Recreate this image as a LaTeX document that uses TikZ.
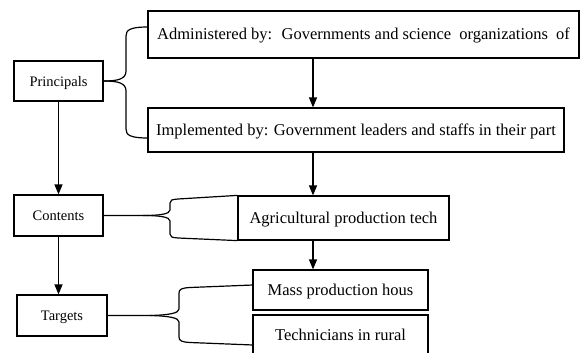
\documentclass[tikz,border=0pt]{standalone}
\usepackage{fontspec}
\setmainfont{Liberation Serif}
\usetikzlibrary{arrows.meta,calc}
\tikzset{
	box/.style={draw, line width=1.2pt, rectangle, inner sep=0pt, text height=12pt, text depth=2pt},
	leftbox/.style={box, font=\fontsize{14.5}{17}\selectfont},
	rightbox/.style={box, font=\fontsize{16.5}{20}\selectfont},
	link/.style={line width=1.2pt, -{Triangle[length=10pt,width=8pt]}},
	brace/.style={line width=1.2pt}
}
\begin{document}
\begin{tikzpicture}[x=1pt,y=-1pt]
			%%%%% START %%%%%
			\useasboundingbox (0,0) rectangle (581,353);
			\clip (0,0) rectangle (581,353);
			
			\node[leftbox, minimum width=89pt, minimum height=40pt] (prin) at (58.5,81) {Principals};
			\node[leftbox, minimum width=89pt, minimum height=41pt] (cont) at (58.5,215.5) {Contents};
			\node[leftbox, minimum width=90pt, minimum height=41pt] (targ) at (62,315.5) {Targets};
			
			\node[rightbox, minimum width=431pt, minimum height=47pt] (admin) at (363.5,34.5) {Administered by:\hspace{4pt} Governments and science\hspace{4pt} organizations\hspace{4pt} of};
			\node[rightbox, minimum width=416pt, minimum height=44pt] (impl) at (356,130) {Implemented by: Government leaders and staffs in their part};
			\node[rightbox, minimum width=211pt, minimum height=44pt] (agri) at (343.5,218) {Agricultural production tech};
			\node[rightbox, minimum width=175pt, minimum height=40pt] (mass) at (340.5,290) {Mass production hous};
			\node[rightbox, minimum width=175pt, minimum height=40pt] (tech) at (340.5,335) {Technicians in rural};
			
			% arrows
			\coordinate (ax) at (313,0);
			\draw[link] (admin.south -| ax) -- (impl.north -| ax);
			\draw[link] (impl.south -| ax) -- (agri.north -| ax);
			\draw[link] (agri.south -| ax) -- (mass.north -| ax);
			\draw[link] (prin.south) -- (cont.north);
			\draw[link] (cont.south) -- (targ.north -| cont.south);
			
			% braces
			\coordinate (pa) at (148,27);
			\coordinate (pb) at (148,138);
			\draw[brace] (prin.east) .. controls (118,81) and (126,79) .. (126,71) -- (126,36) .. controls (126,30) and (130,27) .. (pa);
			\draw[brace] (prin.east) .. controls (118,81) and (126,83) .. (126,91) -- (126,129) .. controls (126,135) and (130,138) .. (pb);
			
			\draw[brace] (cont.east) -- (143,215.5) .. controls (160,215.5) and (170,214) .. (170,210) -- (170,203) .. controls (170,200) and (172,199.5) .. (178,199) -- (agri.north west);
			\draw[brace] (143,215.5) .. controls (160,215.5) and (170,217) .. (170,221) -- (170,234) .. controls (170,237) and (172,237.5) .. (178,238) -- (agri.south west);
			
			\coordinate (ma) at (253,285);
			\coordinate (tb) at (253,345);
			\draw[brace] (targ.east) -- (150,315.5) .. controls (170,315) and (179,313) .. (179,309) -- (179,293) .. controls (179,289) and (182,288) .. (190,287.5) -- (ma);
			\draw[brace] (150,315.5) .. controls (170,316) and (179,318) .. (179,322) -- (179,337) .. controls (179,341) and (182,342) .. (190,342.5) -- (tb);
			
			%%%%% END %%%%%
\end{tikzpicture}
\end{document}
